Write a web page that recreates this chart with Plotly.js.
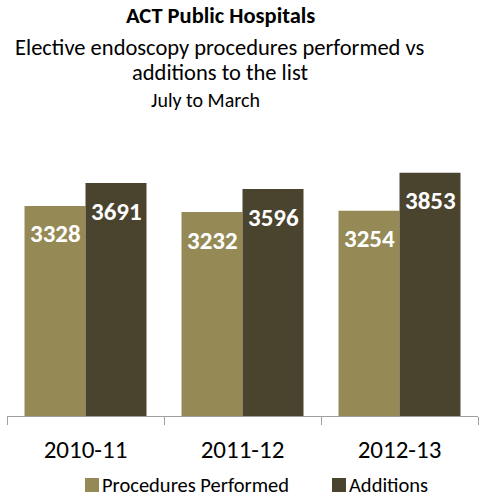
<!DOCTYPE html>
<html>
<head>
<meta charset="utf-8">
<script src="https://cdn.plot.ly/plotly-3.0.1.min.js"></script>
<style>html,body{margin:0;padding:0;background:#fff;}#chart{width:479px;height:497px;}</style>
</head>
<body>
<div id="chart"></div>
<script>
const categories = ["2010-11", "2011-12", "2012-13"];
const procedures = [3328, 3232, 3254];
const additions = [3691, 3596, 3853];
const seriesNames = ["Procedures Performed", "Additions"];
const titleLines = ["ACT Public Hospitals", "Elective endoscopy procedures performed vs", "additions to the list", "July to March"];

const FONT = "Carlito, Lato, 'Open Sans', sans-serif";
const colors = ["#958A55", "#4A432D"];

const W = 479, H = 497, mt = 132, mb = 81, ml = 7, mr = 1;
const ph = H - mt - mb, pw = W - ml - mr;
const px2x = p => (p - ml) / pw;
const py2y = p => (H - mb - p) / ph;

const traces = [
  {type: "bar", name: seriesNames[0], x: categories, y: procedures, marker: {color: colors[0]}, hoverinfo: "none", showlegend: false},
  {type: "bar", name: seriesNames[1], x: categories, y: additions, marker: {color: colors[1]}, hoverinfo: "none", showlegend: false}
];

const annotations = [];
const valueFont = {family: FONT, size: 25, color: "#ffffff", weight: "bold"};
categories.forEach((c, i) => {
  annotations.push({x: c, y: procedures[i], xref: "x", yref: "y", text: String(procedures[i]), showarrow: false,
    xshift: -30.5, yshift: -28, yanchor: "middle", font: valueFont});
  annotations.push({x: c, y: additions[i], xref: "x", yref: "y", text: String(additions[i]), showarrow: false,
    xshift: 30.5, yshift: -28, yanchor: "middle", font: valueFont});
});

// title lines
const titleY = [15, 47, 73, 100];
const titleX = [220, 220, 220, 205];
const titleSizes = [22.5, 22.5, 22.5, 20];
titleLines.forEach((t, i) => {
  annotations.push({xref: "paper", yref: "paper", x: px2x(titleX[i]), xanchor: "center", y: py2y(titleY[i]), yanchor: "middle",
    text: t, showarrow: false,
    font: {family: FONT, size: titleSizes[i], color: "#000", weight: i === 0 ? "bold" : "normal"}});
});

// manual legend
const legSquareX = [85, 332];
const legY = 485;
const shapes = [];
seriesNames.forEach((n, i) => {
  shapes.push({type: "rect", xref: "paper", yref: "paper", x0: px2x(legSquareX[i]), x1: px2x(legSquareX[i] + 14),
    y0: py2y(legY + 7), y1: py2y(legY - 7), fillcolor: colors[i], line: {width: 0}});
  annotations.push({xref: "paper", yref: "paper", x: px2x(legSquareX[i] + 15), xanchor: "left", y: py2y(legY), yanchor: "middle",
    text: n, showarrow: false, font: {family: FONT, size: 20.5, color: "#000"}});
});

const layout = {
  width: W, height: H,
  margin: {l: ml, r: mr, t: mt, b: mb, pad: 0},
  paper_bgcolor: "#fff", plot_bgcolor: "#fff",
  barmode: "group", bargap: 0.223, bargroupgap: 0,
  showlegend: false,
  xaxis: {type: "category", showline: true, linecolor: "#a0a0a0", linewidth: 1, ticks: "outside", tickson: "boundaries",
    ticklen: 8, tickcolor: "#a0a0a0", tickfont: {family: FONT, size: 25, color: "#000"}, ticklabelstandoff: 11,
    showgrid: false, zeroline: false, fixedrange: true},
  yaxis: {range: [0, 4500], visible: false, showgrid: false, zeroline: false, fixedrange: true},
  annotations: annotations,
  shapes: shapes
};

Plotly.newPlot("chart", traces, layout, {staticPlot: true, displayModeBar: false});
</script>
</body>
</html>
